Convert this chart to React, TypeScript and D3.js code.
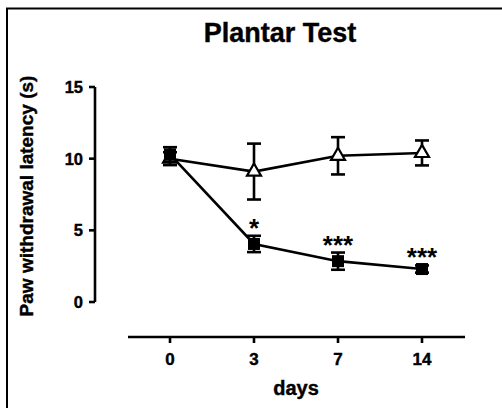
import * as d3 from "d3";

const days = ["0", "3", "7", "14"];
const shamMean = [10.0, 9.1, 10.2, 10.4];
const shamErr = [0.45, 1.95, 1.3, 0.87];
const cciMean = [10.3, 4.05, 2.85, 2.3];
const cciErr = [0.5, 0.57, 0.6, 0.25];
const stars = ["", "*", "***", "***"];
const yTicks = [0, 5, 10, 15];

const W = 502;
const H = 408;
const font = "'Liberation Sans', Arial, sans-serif";

export default function App() {
  const x = d3.scalePoint<string>().domain(days).range([170, 422]);
  const y = d3.scaleLinear().domain([0, 15]).range([302, 87]);

  const line = d3
    .line<number>()
    .x((d, i) => x(days[i])!)
    .y((d) => y(d));

  const errBars = (mean: number[], err: number[]) =>
    mean.map((m, i) => {
      const cx = x(days[i])!;
      const top = y(m + err[i]);
      const bot = y(m - err[i]);
      return (
        <g key={i} stroke="#000" strokeWidth={2.6}>
          <line x1={cx} x2={cx} y1={top} y2={bot} />
          <line x1={cx - 7} x2={cx + 7} y1={top} y2={top} />
          <line x1={cx - 7} x2={cx + 7} y1={bot} y2={bot} />
        </g>
      );
    });

  const tri = d3.symbol().type(d3.symbolTriangle).size(85)();

  return (
    <div style={{ position: "absolute", left: 0, top: 0 }}>
      <svg width={W} height={H} style={{ display: "block", background: "#fff" }}>
        {/* frame */}
        <line x1={7} x2={7} y1={8} y2={H} stroke="#000" strokeWidth={2} />
        <line x1={6} x2={W} y1={8.5} y2={8.5} stroke="#000" strokeWidth={2} />

        <g fontFamily={font} fontWeight="bold" stroke="#000" strokeWidth={0.4}>
          <text x={280} y={42} textAnchor="middle" fontSize={27}>
            Plantar Test
          </text>

          {/* y axis labels */}
          {yTicks.map((t) => (
            <text key={t} x={83} y={y(t) + 6} textAnchor="end" fontSize={16.5}>
              {t}
            </text>
          ))}
          <text transform={`translate(33,196) rotate(-90)`} textAnchor="middle" fontSize={19}>
            Paw withdrawal latency (s)
          </text>

          {/* x axis labels */}
          {days.map((d) => (
            <text key={d} x={x(d)} y={365} textAnchor="middle" fontSize={17}>
              {d}
            </text>
          ))}
          <text x={296} y={395} textAnchor="middle" fontSize={20}>
            days
          </text>
        </g>

        {/* axes */}
        <g stroke="#000" strokeWidth={2.6}>
          <line x1={95} x2={95} y1={y(15)} y2={y(0)} />
          {yTicks.map((t) => (
            <line key={t} x1={89} x2={95} y1={y(t)} y2={y(t)} />
          ))}
          <line x1={128} x2={465} y1={337} y2={337} />
          {days.map((d) => (
            <line key={d} x1={x(d)} x2={x(d)} y1={337} y2={343} />
          ))}
        </g>

        {/* series lines */}
        <path d={line(shamMean)!} fill="none" stroke="#000" strokeWidth={2.6} />
        <path d={line(cciMean)!} fill="none" stroke="#000" strokeWidth={2.6} />

        {errBars(shamMean, shamErr)}
        {shamMean.map((m, i) => (
          <path
            key={i}
            d={tri!}
            transform={`translate(${x(days[i])},${y(m)})`}
            fill="#fff"
            stroke="#000"
            strokeWidth={2.2}
          />
        ))}

        {errBars(cciMean, cciErr)}
        {cciMean.map((m, i) => (
          <rect key={i} x={x(days[i])! - 6} y={y(m) - 6} width={12} height={12} fill="#000" />
        ))}

        {/* significance */}
        {stars.map((s, i) =>
          s ? (
            <text
              key={i}
              x={x(days[i])}
              y={y(cciMean[i] + cciErr[i]) + 1}
              textAnchor="middle"
              fontFamily={font}
              fontWeight="bold"
              fontSize={26}
            >
              {s}
            </text>
          ) : null
        )}
      </svg>
    </div>
  );
}
